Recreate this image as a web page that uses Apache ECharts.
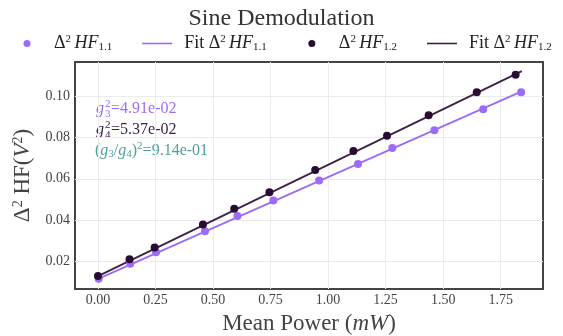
<!DOCTYPE html>
<html><head><meta charset="utf-8">
<script src="https://cdn.jsdelivr.net/npm/echarts@6/dist/echarts.min.js"></script>
<style>html,body{margin:0;padding:0;background:#fff}#c{width:563px;height:336px}</style>
</head><body><div id="c"></div>
<script>
const power11 = [0.003,0.140,0.252,0.465,0.606,0.762,0.961,1.130,1.279,1.462,1.674,1.839];
const hf11    = [0.0118,0.0190,0.0245,0.0347,0.0421,0.0495,0.0592,0.0672,0.0749,0.0835,0.0936,0.1018];
const power12 = [0.000,0.137,0.246,0.456,0.592,0.745,0.944,1.110,1.256,1.437,1.646,1.815];
const hf12    = [0.0131,0.0212,0.0268,0.0379,0.0456,0.0535,0.0643,0.0734,0.0808,0.0907,0.1018,0.1103];
const fitX11 = [0.003, 1.839];
const fitY11 = [0.0118, 0.1021];
const fitX12 = [0.000, 1.842];
const fitY12 = [0.0130, 0.1120];
const xTicks = [0,0.25,0.5,0.75,1.0,1.25,1.5,1.75];
const yTicks = [0.02,0.04,0.06,0.08,0.10];

const SERIF = '"Liberation Serif","DejaVu Serif",serif';
const C1 = '#9c6cf6', C2 = '#2a0c33', L2 = '#3f2148', TEAL = '#4f9f9c';
const zip = (a,b)=>a.map((v,i)=>[v,b[i]]);
const chart = echarts.init(document.getElementById('c'));
const LC = '#222';
const richLeg = {
  n:{fontFamily:SERIF,fontSize:18,color:LC},
  s:{fontFamily:SERIF,fontSize:11,color:LC,padding:[0,0,8,0]},
  i:{fontFamily:SERIF,fontSize:18,fontStyle:'italic',color:LC},
  b:{fontFamily:SERIF,fontSize:11,color:LC,padding:[7,0,0,0]}
};
const LINEICON = 'path://M0,0 L30,0 L30,1.6 L0,1.6 Z';
const DOTICON = 'path://M0,0 L0,0 M30,7 L30,7 M18.5,3.5 A3.5,3.5 0 1,1 11.5,3.5 A3.5,3.5 0 1,1 18.5,3.5 Z';
function gAnnot(x, y, sub, rest, col){
  const f = 'px ' + SERIF;
  return {type:'group',x:x,y:y,children:[
    {type:'text',x:0,y:0,style:{text:'g',font:'italic 16'+f,fill:col,verticalAlign:'middle'}},
    {type:'text',x:9,y:-5,style:{text:'2',font:'11'+f,fill:col,verticalAlign:'middle'}},
    {type:'text',x:9,y:5,style:{text:sub,font:'11'+f,fill:col,verticalAlign:'middle'}},
    {type:'text',x:15,y:0,style:{text:rest,font:'16'+f,fill:col,verticalAlign:'middle'}}
  ]};
}
chart.setOption({
  animation:false,
  title:{text:'Sine Demodulation',left:'center',top:2,textStyle:{fontFamily:SERIF,fontSize:24,fontWeight:'normal',color:'#333'}},
  legend:{top:29,left:7,itemGap:30,itemWidth:30,itemHeight:7,
    data:[{name:'a',icon:DOTICON},{name:'b',icon:LINEICON},{name:'c',icon:DOTICON},{name:'d',icon:LINEICON}],
    formatter:function(n){
      const m={a:'{n|Δ}{s|2} {i|HF}{b|1.1}',b:'{n|Fit Δ}{s|2} {i|HF}{b|1.1}',c:'{n|Δ}{s|2} {i|HF}{b|1.2}',d:'{n|Fit Δ}{s|2} {i|HF}{b|1.2}'};
      return m[n];
    },
    textStyle:{rich:richLeg,padding:[0,0,0,7]}},
  grid:{left:75,right:20,top:62,bottom:47,show:true,borderColor:'#444',borderWidth:2,outerBoundsMode:'none',containLabel:false},
  xAxis:{type:'value',min:-0.1,max:1.934,
    name:'Mean Power ({i|mW})',nameLocation:'middle',nameGap:23,
    nameTextStyle:{fontFamily:SERIF,fontSize:23,color:'#444',rich:{i:{fontFamily:SERIF,fontSize:23,fontStyle:'italic',color:'#444'}}},
    axisLine:{show:false},axisTick:{show:false,customValues:xTicks},
    axisLabel:{customValues:xTicks,formatter:v=>v.toFixed(2),fontFamily:SERIF,fontSize:14,color:'#444',margin:4},
    splitLine:{show:true,lineStyle:{color:'#ebebeb',width:1}}},
  yAxis:{type:'value',min:0.0068,max:0.1164,
    name:'Δ{s|2} HF({i|V}{s|2})',nameLocation:'middle',nameRotate:90,nameGap:25,
    nameTextStyle:{fontFamily:SERIF,fontSize:23,color:'#444',rich:{i:{fontFamily:SERIF,fontSize:23,fontStyle:'italic',color:'#444'},s:{fontFamily:SERIF,fontSize:14,color:'#444',padding:[0,0,9,0]}}},
    axisLine:{show:false},axisTick:{show:false,customValues:yTicks},
    axisLabel:{customValues:yTicks,formatter:v=>v.toFixed(2),fontFamily:SERIF,fontSize:14,color:'#444',margin:5},
    splitLine:{show:true,lineStyle:{color:'#ebebeb',width:1}}},
  series:[
    {name:'b',type:'line',data:zip(fitX11,fitY11),symbol:'none',lineStyle:{color:C1,width:1.8},itemStyle:{color:C1},z:2},
    {name:'d',type:'line',data:zip(fitX12,fitY12),symbol:'none',lineStyle:{color:L2,width:1.8},itemStyle:{color:L2},z:2},
    {name:'a',type:'scatter',data:zip(power11,hf11),symbolSize:8,itemStyle:{color:C1,opacity:1},z:3},
    {name:'c',type:'scatter',data:zip(power12,hf12),symbolSize:8,itemStyle:{color:C2,opacity:1},z:3}
  ],
  graphic:[
    gAnnot(96, 109, '3', '=4.91e-02', C1),
    gAnnot(96, 130, '4', '=5.37e-02', L2),
    {type:'text',left:95,top:141,style:{text:'{n|(}{i|g}{sb|3}{n|/}{i|g}{sb|4}{n|)}{sp|2}{n|=9.14e-01}',rich:{
      i:{fontFamily:SERIF,fontSize:16,fontStyle:'italic',fill:TEAL},
      sp:{fontFamily:SERIF,fontSize:11,fill:TEAL,padding:[0,0,8,0]},
      sb:{fontFamily:SERIF,fontSize:11,fill:TEAL,padding:[7,0,0,0]},
      n:{fontFamily:SERIF,fontSize:16,fill:TEAL}}}}
  ]
});
</script></body></html>
